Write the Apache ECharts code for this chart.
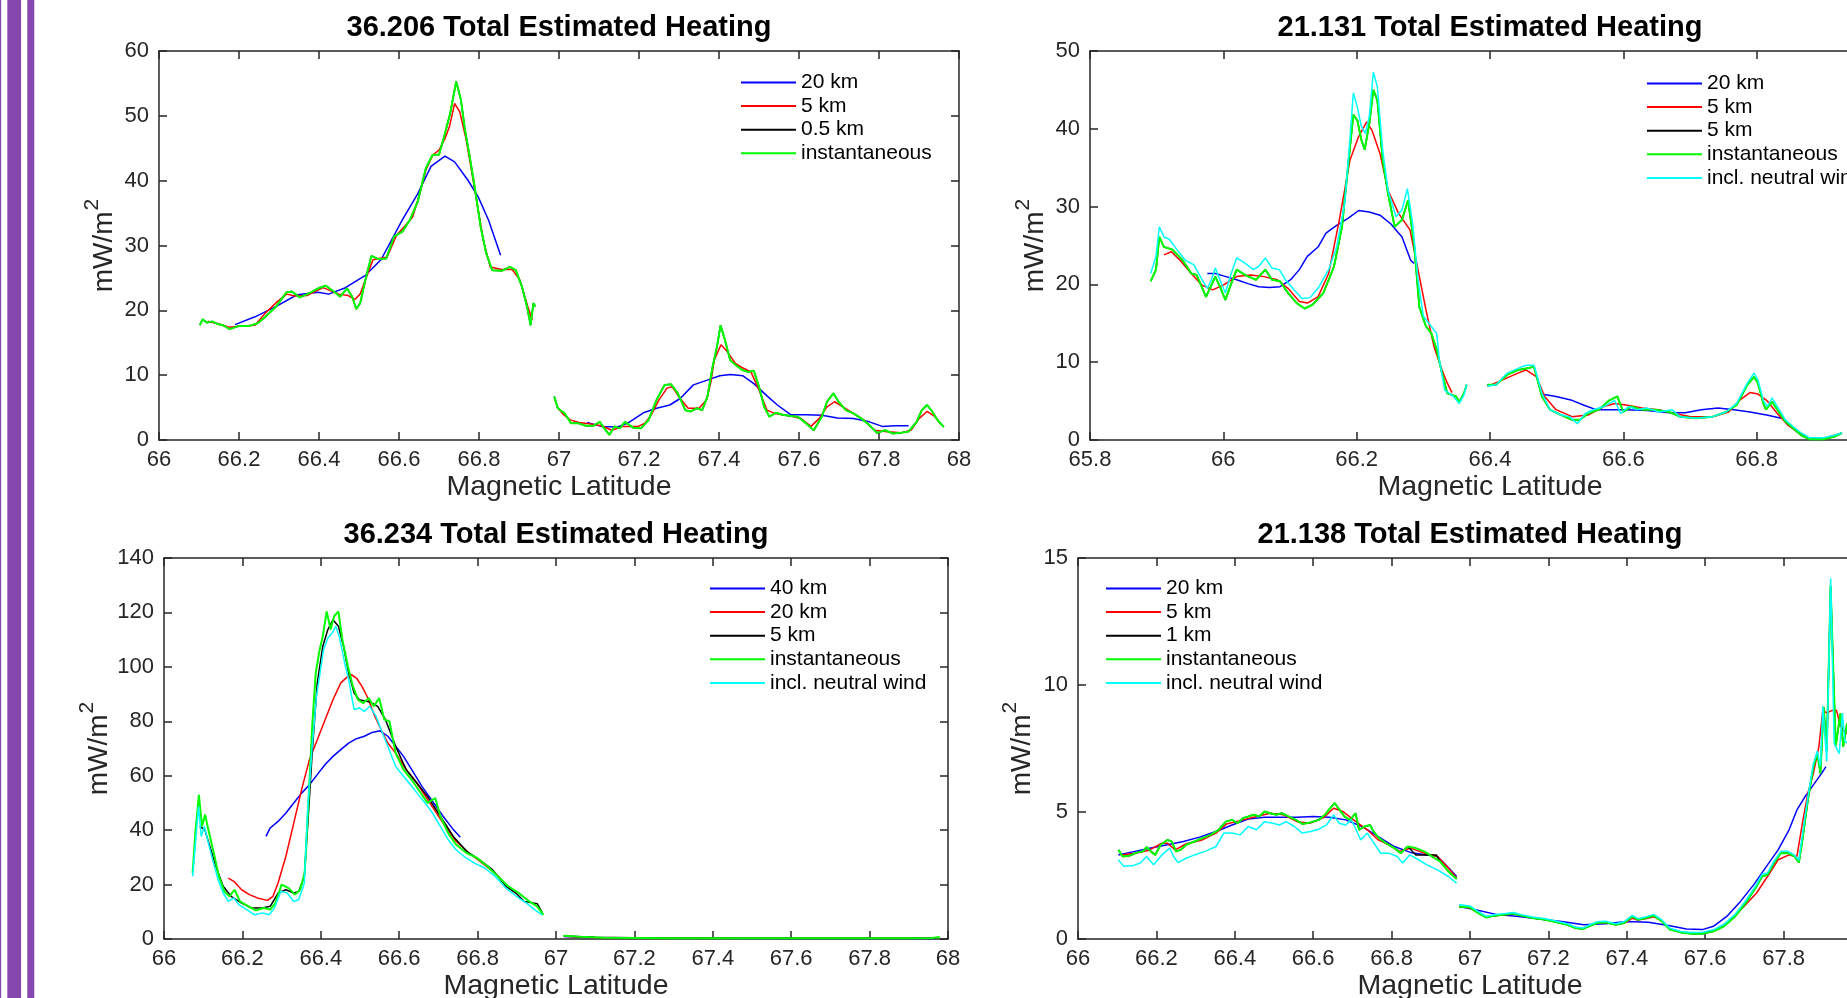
<!DOCTYPE html>
<html>
<head>
<meta charset="utf-8">
<title>Total Estimated Heating</title>
<script src="https://cdn.jsdelivr.net/npm/echarts/dist/echarts.min.js"></script>
<style>
  html, body { margin: 0; padding: 0; background: #ffffff; overflow: hidden; }
  #chart { width: 1847px; height: 998px; }
</style>
</head>
<body>
<div id="chart"></div>
<script>
// ---------------------------------------------------------------------------
// Heating estimates vs. magnetic latitude, four passes.
// Every curve is a list of segments of [latitude, mW/m^2] pairs.
// ---------------------------------------------------------------------------

// ---- 36.206 ---------------------------------------------------------------
const p206_20km = [
  [[66.19,17.8],[66.24,19.0],[66.293,20.6],[66.345,22.4],[66.398,22.8],[66.424,22.5],[66.463,23.4],[66.516,25.4],[66.555,27.8],[66.608,33.9],[66.647,38.0],[66.68,42.2],[66.715,43.8],[66.739,42.9],[66.772,40.1],[66.798,37.5],[66.824,33.9],[66.854,28.5]],
  [[67.07,2.7],[67.106,2.1],[67.146,2.0],[67.172,2.6],[67.211,4.2],[67.244,4.9],[67.277,5.4],[67.303,6.4],[67.336,8.5],[67.369,9.2],[67.402,9.9],[67.428,10.1],[67.46,9.9],[67.487,8.7],[67.52,6.8],[67.546,5.4],[67.579,3.9],[67.617,3.9],[67.657,3.8],[67.696,3.4],[67.736,3.3],[67.776,2.8],[67.808,2.1],[67.841,2.2],[67.874,2.2]]
];
const p206_5km = [
  [[66.122,18.3],[66.15,17.9],[66.175,17.4],[66.21,17.6],[66.24,17.7],[66.265,19.5],[66.295,21.3],[66.319,22.5],[66.34,22.2],[66.371,22.3],[66.41,23.5],[66.45,22.5],[66.472,22.3],[66.49,21.7],[66.503,22.5],[66.516,24.7],[66.535,27.8],[66.55,28.0],[66.57,28.2],[66.594,31.6],[66.615,33.0],[66.634,34.4],[66.652,38.0],[66.667,41.6],[66.685,44.0],[66.7,44.7],[66.715,46.5],[66.726,48.3],[66.739,51.9],[66.752,50.6],[66.768,46.3],[66.78,42.0],[66.791,38.0],[66.811,30.8],[66.828,26.7],[66.857,26.3],[66.883,26.3],[66.902,24.7],[66.922,20.6],[66.933,18.5]],
  [[66.995,5.1],[67.01,4.0],[67.028,3.1],[67.05,2.7],[67.075,2.5],[67.106,2.2],[67.132,1.5],[67.16,2.1],[67.198,2.1],[67.215,2.6],[67.231,3.9],[67.25,6.2],[67.27,8.0],[67.283,8.2],[67.303,6.4],[67.323,4.9],[67.35,4.9],[67.369,6.2],[67.38,9.0],[67.388,12.3],[67.405,14.7],[67.421,13.6],[67.441,11.8],[67.46,11.1],[67.48,10.5],[67.5,7.7],[67.52,4.6],[67.539,4.1],[67.579,3.7],[67.605,3.3],[67.63,2.1],[67.65,3.3],[67.67,5.1],[67.689,5.9],[67.71,5.1],[67.736,4.1],[67.762,3.1],[67.789,1.5],[67.815,1.3],[67.854,1.1],[67.88,1.5],[67.9,3.3],[67.92,4.4],[67.94,3.6],[67.96,2.1]]
];
const p206_inst = [
  [[66.102,17.7],[66.109,18.6],[66.12,18.1],[66.133,18.3],[66.146,17.9],[66.16,17.7],[66.177,17.1],[66.2,17.6],[66.226,17.6],[66.247,18.0],[66.266,19.0],[66.293,20.6],[66.319,22.8],[66.332,22.9],[66.352,22.0],[66.371,22.5],[66.398,23.4],[66.417,23.8],[66.437,22.9],[66.453,22.1],[66.47,23.4],[66.483,22.1],[66.493,20.2],[66.503,21.1],[66.516,24.7],[66.531,28.4],[66.549,27.9],[66.568,28.0],[66.588,31.4],[66.608,32.1],[66.627,33.9],[66.647,36.8],[66.667,41.9],[66.684,44.0],[66.7,44.0],[66.713,46.8],[66.728,50.4],[66.743,55.3],[66.755,52.4],[66.765,47.8],[66.776,44.0],[66.789,39.1],[66.804,32.9],[66.818,28.8],[66.833,26.2],[66.857,26.1],[66.877,26.7],[66.892,26.2],[66.907,23.7],[66.92,20.6],[66.929,17.7],[66.936,21.1],[66.941,20.6]],
  [[66.988,6.7],[66.997,4.9],[67.014,4.1],[67.03,2.6],[67.047,2.6],[67.067,2.2],[67.086,2.2],[67.102,2.8],[67.113,1.8],[67.126,0.8],[67.139,2.1],[67.152,1.8],[67.165,2.8],[67.185,1.9],[67.205,1.8],[67.224,3.1],[67.244,6.2],[67.264,8.5],[67.28,8.6],[67.297,7.2],[67.316,4.6],[67.329,4.4],[67.345,4.9],[67.358,4.6],[67.371,6.7],[67.384,11.3],[67.395,14.4],[67.404,17.7],[67.415,15.4],[67.428,12.3],[67.441,11.6],[67.458,10.8],[67.474,10.5],[67.487,10.7],[67.5,8.2],[67.513,5.1],[67.526,3.6],[67.542,4.2],[67.559,3.9],[67.579,3.7],[67.597,3.6],[67.617,2.6],[67.637,1.5],[67.657,3.6],[67.67,5.9],[67.686,7.2],[67.699,5.9],[67.717,4.6],[67.736,4.1],[67.756,3.3],[67.776,2.3],[67.795,1.1],[67.815,1.5],[67.835,1.0],[67.854,1.1],[67.874,1.3],[67.894,2.8],[67.907,4.6],[67.92,5.4],[67.933,4.4],[67.946,3.1],[67.962,2.0]]
];
// the 0.5 km average lies on the instantaneous curve everywhere at this scale
const p206_05km = p206_inst;

// ---- 21.131 ---------------------------------------------------------------
const p131_20km = [
  [[65.976,21.4],[65.988,21.4],[66.004,21.0],[66.02,20.6],[66.037,20.1],[66.053,19.7],[66.069,19.6],[66.085,19.7],[66.101,20.6],[66.114,21.9],[66.126,23.6],[66.142,24.8],[66.154,26.6],[66.17,27.6],[66.187,28.5],[66.203,29.5],[66.219,29.3],[66.235,28.9],[66.251,27.8],[66.268,26.1],[66.281,23.1],[66.286,22.7]],
  [[66.477,5.9],[66.499,5.6],[66.523,5.1],[66.543,4.4],[66.559,3.9],[66.58,3.9],[66.604,3.9],[66.636,3.8],[66.669,3.5],[66.693,3.5],[66.717,3.9],[66.742,4.1],[66.766,3.9],[66.79,3.6],[66.815,3.2],[66.837,2.8]]
];
const p131_5km = [
  [[65.911,23.8],[65.922,24.2],[65.935,23.1],[65.952,21.4],[65.968,19.9],[65.984,19.3],[66.0,19.9],[66.02,21.0],[66.041,21.2],[66.061,21.0],[66.081,20.6],[66.097,19.5],[66.114,17.8],[66.126,17.6],[66.142,18.4],[66.158,21.4],[66.174,28.3],[66.19,36.0],[66.203,39.0],[66.215,40.9],[66.223,39.8],[66.235,36.8],[66.247,32.1],[66.263,29.1],[66.28,27.0],[66.292,21.9],[66.304,16.7],[66.316,12.0],[66.328,9.0],[66.336,7.3],[66.343,6.1]],
  [[66.396,6.9],[66.418,7.7],[66.442,8.6],[66.454,9.0],[66.47,8.1],[66.482,5.6],[66.499,3.9],[66.523,3.0],[66.547,3.2],[66.571,4.3],[66.587,4.7],[66.604,4.5],[66.628,4.1],[66.652,3.9],[66.677,3.4],[66.701,3.0],[66.734,3.0],[66.758,3.6],[66.774,5.1],[66.79,6.1],[66.802,5.9],[66.815,5.1],[66.831,3.4],[66.847,1.9],[66.863,0.9],[66.879,0.2],[66.9,0.2],[66.916,0.6],[66.928,0.9]]
];
const p131_inst = [
  [[65.891,20.4],[65.899,21.9],[65.904,26.1],[65.911,24.8],[65.923,24.5],[65.939,23.1],[65.952,21.4],[65.96,21.2],[65.974,18.4],[65.981,19.7],[65.988,21.0],[65.996,19.5],[66.003,18.0],[66.011,19.9],[66.02,21.9],[66.033,21.2],[66.049,20.6],[66.063,21.9],[66.073,20.6],[66.085,20.4],[66.097,18.9],[66.11,17.6],[66.122,16.9],[66.134,17.4],[66.15,18.9],[66.166,22.3],[66.178,27.4],[66.187,35.1],[66.195,41.8],[66.201,41.1],[66.207,38.6],[66.212,37.3],[66.219,40.7],[66.225,45.0],[66.231,43.7],[66.239,36.0],[66.247,31.7],[66.257,27.4],[66.268,28.3],[66.277,30.8],[66.286,25.3],[66.294,17.1],[66.304,14.6],[66.312,13.7],[66.32,11.6],[66.328,8.6],[66.336,6.0],[66.349,5.6],[66.354,4.9],[66.361,6.0],[66.365,7.1]],
  [[66.396,7.1],[66.409,7.1],[66.426,8.4],[66.442,9.0],[66.454,9.2],[66.466,9.4],[66.478,5.6],[66.49,3.9],[66.507,3.2],[66.523,2.6],[66.535,2.6],[66.547,3.4],[66.563,3.9],[66.579,5.1],[66.591,5.6],[66.6,3.6],[66.612,4.3],[66.628,3.9],[66.648,3.9],[66.669,3.6],[66.685,3.0],[66.709,2.8],[66.734,3.0],[66.754,3.6],[66.77,4.5],[66.786,7.1],[66.796,8.1],[66.802,7.3],[66.81,4.7],[66.814,3.9],[66.823,4.9],[66.831,3.9],[66.843,2.4],[66.855,1.5],[66.867,0.6],[66.879,0.1],[66.9,0.1],[66.916,0.4],[66.928,0.9]]
];
// the black 5 km curve is hidden beneath the instantaneous one
const p131_5kmBlack = p131_inst;
const p131_wind = [
  [[65.891,21.4],[65.899,23.6],[65.904,27.4],[65.911,26.1],[65.919,25.8],[65.931,24.4],[65.943,23.1],[65.956,22.5],[65.968,20.6],[65.976,19.5],[65.982,20.6],[65.988,22.1],[65.994,20.8],[66.003,18.9],[66.011,21.2],[66.02,23.4],[66.033,22.7],[66.045,21.9],[66.053,22.3],[66.063,23.4],[66.073,22.1],[66.084,21.9],[66.093,20.6],[66.106,19.3],[66.118,18.2],[66.13,18.3],[66.142,19.5],[66.158,21.9],[66.17,24.8],[66.182,30.4],[66.189,37.7],[66.195,44.6],[66.201,42.8],[66.207,40.3],[66.213,39.4],[66.219,41.6],[66.225,47.3],[66.231,45.4],[66.239,37.3],[66.247,32.1],[66.259,28.7],[66.268,29.6],[66.276,32.3],[66.284,27.8],[66.292,20.6],[66.3,15.9],[66.312,14.6],[66.32,13.7],[66.324,10.3],[66.332,6.4],[66.345,5.6],[66.354,4.7],[66.361,5.8],[66.365,7.1]],
  [[66.396,6.9],[66.409,7.1],[66.426,8.6],[66.442,9.2],[66.454,9.6],[66.466,9.6],[66.478,6.0],[66.49,3.9],[66.507,3.2],[66.519,3.0],[66.531,2.1],[66.543,3.4],[66.555,3.9],[66.571,4.3],[66.587,5.1],[66.596,3.4],[66.608,4.3],[66.62,3.9],[66.636,4.1],[66.653,3.6],[66.673,3.9],[66.685,3.0],[66.709,2.8],[66.734,3.0],[66.754,3.6],[66.77,4.7],[66.786,7.3],[66.796,8.6],[66.802,7.7],[66.81,5.1],[66.816,4.3],[66.823,5.4],[66.831,4.3],[66.843,2.6],[66.855,1.7],[66.867,0.9],[66.879,0.3],[66.9,0.3],[66.916,0.6],[66.928,0.9]]
];

// ---- 36.234 ---------------------------------------------------------------
const p234_40km = [
  [[66.26,37.7],[66.271,40.8],[66.291,43.2],[66.311,46.3],[66.331,50.0],[66.351,53.6],[66.371,56.7],[66.391,60.4],[66.411,64.1],[66.431,67.1],[66.451,69.6],[66.471,72.0],[66.491,73.6],[66.511,74.5],[66.531,75.9],[66.551,76.5],[66.571,74.5],[66.591,70.8],[66.611,67.1],[66.632,62.2],[66.658,56.1],[66.685,50.6],[66.712,45.1],[66.738,40.2],[66.756,37.4]],
  [[67.02,0.9],[67.1,0.5],[67.3,0.3],[67.6,0.2],[67.97,0.2]]
];
const p234_20km = [
  [[66.164,22.4],[66.178,21.2],[66.198,18.1],[66.218,16.3],[66.238,15.1],[66.264,14.2],[66.278,15.7],[66.291,20.6],[66.311,30.4],[66.331,42.6],[66.351,54.9],[66.371,65.9],[66.391,73.2],[66.411,80.6],[66.431,87.9],[66.451,94.1],[66.469,96.5],[66.478,97.1],[66.491,95.9],[66.505,92.8],[66.518,89.2],[66.538,81.8],[66.554,76.9],[66.571,72.0],[66.591,68.3],[66.618,62.2],[66.645,57.3],[66.678,50.0],[66.712,42.6],[66.745,35.9],[66.778,31.6],[66.812,27.9],[66.838,24.9],[66.858,22.4]],
  [[67.02,1.0],[67.1,0.5],[67.3,0.3],[67.6,0.25],[67.97,0.25]]
];
const p234_5km = [
  [[66.091,41.4],[66.104,40.2],[66.117,34.0],[66.135,25.5],[66.151,19.4],[66.171,15.7],[66.198,13.2],[66.224,11.4],[66.251,11.4],[66.271,12.0],[66.291,16.9],[66.311,18.1],[66.331,16.9],[66.344,17.5],[66.358,23.0],[66.367,42.6],[66.378,68.3],[66.391,94.1],[66.405,107.5],[66.418,113.7],[66.431,117.3],[66.445,114.9],[66.458,107.5],[66.471,97.7],[66.485,90.4],[66.498,87.9],[66.525,87.1],[66.545,85.5],[66.565,80.6],[66.591,70.8],[66.618,62.2],[66.645,57.3],[66.672,52.4],[66.705,45.1],[66.738,37.7],[66.772,32.2],[66.805,29.1],[66.838,25.5],[66.872,19.4],[66.899,16.7],[66.919,13.8],[66.952,13.0],[66.965,9.6]],
  [[67.02,1.1],[67.1,0.6],[67.3,0.3],[67.6,0.25],[67.97,0.3]]
];
const p234_inst = [
  [[66.073,24.2],[66.08,38.9],[66.089,53.0],[66.097,41.4],[66.105,45.7],[66.113,40.2],[66.127,31.6],[66.14,23.0],[66.154,17.5],[66.167,15.7],[66.18,18.1],[66.194,13.8],[66.215,12.0],[66.234,10.5],[66.255,11.4],[66.271,10.8],[66.284,13.2],[66.3,20.0],[66.318,18.7],[66.334,16.3],[66.347,18.1],[66.359,24.2],[66.367,46.3],[66.378,78.1],[66.387,97.7],[66.397,106.3],[66.405,111.2],[66.415,120.4],[66.425,113.7],[66.434,118.6],[66.445,120.4],[66.455,110.0],[66.469,100.2],[66.482,92.8],[66.495,87.9],[66.509,86.7],[66.522,88.5],[66.535,85.5],[66.549,88.5],[66.562,80.6],[66.575,80.0],[66.591,68.3],[66.611,62.2],[66.632,58.5],[66.652,54.3],[66.672,50.0],[66.692,51.8],[66.705,45.1],[66.725,38.9],[66.745,34.7],[66.772,31.6],[66.798,29.8],[66.825,26.7],[66.852,23.0],[66.878,19.4],[66.905,16.9],[66.932,13.8],[66.952,12.0],[66.968,8.9]],
  [[67.019,1.2],[67.06,0.8],[67.12,0.5],[67.3,0.3],[67.6,0.25],[67.9,0.25],[67.96,0.35],[67.979,0.7]]
];
const p234_wind = [
  [[66.073,23.0],[66.081,36.5],[66.088,48.7],[66.095,37.7],[66.103,41.4],[66.111,36.5],[66.124,29.1],[66.138,21.8],[66.151,16.9],[66.164,13.8],[66.178,15.1],[66.191,12.6],[66.211,10.8],[66.231,8.9],[66.251,9.6],[66.268,8.9],[66.282,11.4],[66.298,17.5],[66.314,16.9],[66.331,13.8],[66.344,14.5],[66.358,20.6],[66.367,48.7],[66.378,70.8],[66.389,89.2],[66.398,97.7],[66.407,106.3],[66.418,110.6],[66.429,112.4],[66.438,114.9],[66.447,111.2],[66.461,101.4],[66.471,95.3],[66.485,84.3],[66.498,84.9],[66.511,83.6],[66.525,85.5],[66.541,81.8],[66.554,76.9],[66.571,70.8],[66.591,63.4],[66.611,59.8],[66.632,56.1],[66.652,52.4],[66.669,49.4],[66.685,46.3],[66.705,41.4],[66.725,36.5],[66.745,32.8],[66.765,30.4],[66.792,27.9],[66.818,26.1],[66.845,23.0],[66.872,18.7],[66.899,15.7],[66.925,13.2],[66.945,10.8],[66.965,8.9]]
];

// ---- 21.138 ---------------------------------------------------------------
const p138_20km = [
  [[66.103,3.31],[66.145,3.45],[66.186,3.58],[66.228,3.71],[66.269,3.84],[66.31,4.01],[66.352,4.23],[66.393,4.49],[66.434,4.72],[66.476,4.79],[66.517,4.79],[66.559,4.79],[66.6,4.82],[66.641,4.79],[66.683,4.69],[66.724,4.43],[66.766,4.03],[66.807,3.64],[66.848,3.41],[66.89,3.31],[66.917,3.25],[66.938,2.92],[66.966,2.46]],
  [[66.972,1.28],[67.014,1.15],[67.069,0.96],[67.124,0.89],[67.179,0.79],[67.234,0.69],[67.29,0.56],[67.345,0.6],[67.4,0.69],[67.455,0.66],[67.51,0.52],[67.552,0.39],[67.593,0.37],[67.621,0.5],[67.655,0.89],[67.69,1.48],[67.724,2.14],[67.759,2.92],[67.786,3.51],[67.814,4.3],[67.834,5.08],[67.855,5.61],[67.876,6.07],[67.897,6.52],[67.908,6.79]]
];
const p138_5km = [
  [[66.11,3.31],[66.145,3.38],[66.179,3.48],[66.214,3.77],[66.228,3.77],[66.248,3.51],[66.276,3.75],[66.317,3.9],[66.352,4.17],[66.379,4.53],[66.421,4.69],[66.455,4.82],[66.49,4.95],[66.524,4.89],[66.559,4.62],[66.593,4.56],[66.628,4.79],[66.652,5.15],[66.676,5.02],[66.703,4.69],[66.738,4.3],[66.766,3.9],[66.793,3.71],[66.821,3.45],[66.848,3.58],[66.883,3.38],[66.917,3.25],[66.945,2.79],[66.966,2.4]],
  [[66.972,1.28],[67.0,1.22],[67.021,1.03],[67.041,0.88],[67.062,0.92],[67.09,0.95],[67.11,0.98],[67.131,0.93],[67.159,0.85],[67.193,0.77],[67.221,0.67],[67.248,0.57],[67.269,0.46],[67.287,0.42],[67.303,0.5],[67.324,0.62],[67.345,0.65],[67.372,0.58],[67.393,0.62],[67.414,0.82],[67.428,0.75],[67.448,0.8],[67.469,0.88],[67.49,0.7],[67.51,0.4],[67.538,0.28],[67.566,0.24],[67.593,0.24],[67.621,0.33],[67.648,0.55],[67.676,0.92],[67.703,1.35],[67.731,1.81],[67.759,2.46],[67.786,3.12],[67.814,3.31],[67.834,3.25],[67.848,4.56],[67.862,5.74],[67.876,6.52],[67.89,7.57],[67.9,9.0],[67.91,8.9],[67.924,9.0],[67.935,9.0],[67.945,8.4],[67.959,8.1],[67.975,8.0]]
];
const p138_inst = [
  [[66.103,3.51],[66.114,3.25],[66.131,3.28],[66.152,3.41],[66.166,3.45],[66.175,3.62],[66.186,3.45],[66.197,3.31],[66.211,3.71],[66.228,3.9],[66.239,3.84],[66.25,3.45],[66.262,3.51],[66.276,3.71],[66.297,3.84],[66.317,3.97],[66.338,4.1],[66.359,4.3],[66.377,4.62],[66.393,4.69],[66.407,4.56],[66.421,4.76],[66.434,4.82],[66.448,4.89],[66.462,4.82],[66.476,5.02],[66.49,4.95],[66.506,4.89],[66.52,4.95],[66.538,4.82],[66.556,4.69],[66.572,4.53],[66.593,4.59],[66.614,4.69],[66.63,4.89],[66.641,5.11],[66.655,5.35],[66.666,5.11],[66.68,4.82],[66.694,4.69],[66.708,4.95],[66.717,4.3],[66.731,4.43],[66.745,4.49],[66.754,4.23],[66.768,3.97],[66.786,3.77],[66.807,3.58],[66.823,3.38],[66.841,3.64],[66.862,3.58],[66.883,3.45],[66.903,3.25],[66.924,3.05],[66.945,2.66],[66.966,2.36]],
  [[66.972,1.28],[67.0,1.24],[67.021,1.02],[67.041,0.85],[67.062,0.92],[67.09,0.96],[67.11,1.0],[67.131,0.92],[67.159,0.83],[67.193,0.76],[67.221,0.66],[67.248,0.56],[67.269,0.43],[67.287,0.39],[67.303,0.5],[67.324,0.63],[67.345,0.66],[67.372,0.56],[67.393,0.63],[67.414,0.89],[67.428,0.76],[67.448,0.83],[67.469,0.92],[67.49,0.69],[67.51,0.37],[67.538,0.26],[67.566,0.21],[67.593,0.21],[67.621,0.3],[67.648,0.5],[67.676,0.89],[67.703,1.41],[67.731,2.07],[67.745,2.46],[67.759,2.53],[67.775,2.99],[67.793,3.38],[67.811,3.38],[67.828,3.25],[67.839,3.01],[67.848,3.9],[67.862,5.48],[67.876,6.79],[67.886,7.31],[67.894,6.52],[67.902,9.14],[67.91,7.4],[67.92,13.9],[67.927,10.45],[67.933,7.6],[67.945,8.88],[67.952,7.57],[67.962,8.5],[67.975,7.8]]
];
const p138_1km = [
  [[66.103,3.51],[66.114,3.25],[66.131,3.28],[66.152,3.41],[66.166,3.45],[66.175,3.62],[66.186,3.45],[66.197,3.31],[66.211,3.71],[66.228,3.9],[66.239,3.84],[66.25,3.45],[66.262,3.51],[66.276,3.71],[66.297,3.84],[66.317,3.97],[66.338,4.1],[66.359,4.3],[66.377,4.62],[66.393,4.69],[66.407,4.56],[66.421,4.76],[66.434,4.82],[66.448,4.89],[66.462,4.82],[66.476,5.02],[66.49,4.95],[66.506,4.89],[66.52,4.95],[66.538,4.82],[66.556,4.69],[66.572,4.53],[66.593,4.59],[66.614,4.69],[66.63,4.89],[66.641,5.11],[66.655,5.35],[66.666,5.11],[66.68,4.82],[66.694,4.69],[66.708,4.95],[66.717,4.3],[66.731,4.43],[66.745,4.49],[66.754,4.23],[66.768,3.97],[66.786,3.77],[66.807,3.58],[66.823,3.38],[66.841,3.64],[66.862,3.31],[66.914,3.31],[66.924,3.05],[66.945,2.66],[66.966,2.36]],
  p138_inst[1]
];
const p138_wind = [
  [[66.103,3.12],[66.117,2.86],[66.138,2.88],[66.159,2.99],[66.175,3.25],[66.193,2.92],[66.214,3.31],[66.234,3.58],[66.244,3.25],[66.255,3.01],[66.276,3.18],[66.297,3.31],[66.324,3.45],[66.352,3.64],[66.372,4.17],[66.393,4.17],[66.414,4.1],[66.434,4.43],[66.455,4.3],[66.476,4.62],[66.497,4.56],[66.514,4.49],[66.531,4.62],[66.552,4.43],[66.572,4.17],[66.593,4.23],[66.614,4.32],[66.634,4.49],[66.652,4.89],[66.666,4.56],[66.683,4.49],[66.697,4.69],[66.708,4.36],[66.721,3.9],[66.738,4.17],[66.752,3.84],[66.772,3.38],[66.793,3.38],[66.814,3.25],[66.828,2.99],[66.846,3.31],[66.869,3.12],[66.89,2.92],[66.917,2.72],[66.945,2.46],[66.966,2.2]],
  [[66.972,1.35],[67.0,1.3],[67.021,1.08],[67.041,0.9],[67.062,0.95],[67.09,1.0],[67.11,1.04],[67.131,0.96],[67.159,0.87],[67.193,0.8],[67.221,0.7],[67.248,0.6],[67.269,0.47],[67.287,0.43],[67.303,0.54],[67.324,0.68],[67.345,0.7],[67.372,0.6],[67.393,0.68],[67.414,0.93],[67.428,0.8],[67.448,0.87],[67.469,0.97],[67.49,0.74],[67.51,0.42],[67.538,0.3],[67.566,0.26],[67.593,0.27],[67.621,0.36],[67.648,0.58],[67.676,0.97],[67.703,1.5],[67.731,2.15],[67.745,2.55],[67.759,2.6],[67.775,3.05],[67.793,3.45],[67.811,3.45],[67.828,3.3],[67.839,3.1],[67.848,4.1],[67.862,5.6],[67.876,6.9],[67.886,7.4],[67.894,6.8],[67.9,9.15],[67.91,7.0],[67.92,14.2],[67.929,7.7],[67.942,7.3],[67.95,8.9],[67.956,7.8],[67.963,7.7],[67.975,8.3]]
];

// ---- axis ranges and labels -------------------------------------------------
const panelTitles = ['36.206 Total Estimated Heating', '21.131 Total Estimated Heating',
                     '36.234 Total Estimated Heating', '21.138 Total Estimated Heating'];
const latRanges = [[66, 68], [65.8, 67], [66, 68], [66, 68]];
const latStep = 0.2;
const heatRanges = [[0, 60, 10], [0, 50, 10], [0, 140, 20], [0, 15, 5]];
const xLabel = 'Magnetic Latitude';

// ---- line colours -----------------------------------------------------------
const BLUE = '#0000ff', RED = '#ff0000', BLACK = '#000000', GREEN = '#00ff00', CYAN = '#00ffff';

// curves per panel, in drawing order (last one on top)
const panels = [
  [
    { name: '20 km', color: BLUE, segs: p206_20km },
    { name: '5 km', color: RED, segs: p206_5km },
    { name: '0.5 km', color: BLACK, segs: p206_05km },
    { name: 'instantaneous', color: GREEN, segs: p206_inst }
  ],
  [
    { name: '20 km', color: BLUE, segs: p131_20km },
    { name: '5 km', color: RED, segs: p131_5km },
    { name: '5 km ', color: BLACK, segs: p131_5kmBlack },
    { name: 'instantaneous', color: GREEN, segs: p131_inst },
    { name: 'incl. neutral wind', color: CYAN, segs: p131_wind }
  ],
  [
    { name: '40 km', color: BLUE, segs: p234_40km },
    { name: '20 km', color: RED, segs: p234_20km },
    { name: '5 km', color: BLACK, segs: p234_5km },
    { name: 'instantaneous', color: GREEN, segs: p234_inst },
    { name: 'incl. neutral wind', color: CYAN, segs: p234_wind }
  ],
  [
    { name: '20 km', color: BLUE, segs: p138_20km },
    { name: '5 km', color: RED, segs: p138_5km },
    { name: '1 km', color: BLACK, segs: p138_1km },
    { name: 'instantaneous', color: GREEN, segs: p138_inst },
    { name: 'incl. neutral wind', color: CYAN, segs: p138_wind }
  ]
];

// ---- layout -----------------------------------------------------------------
const FONT = '"Liberation Sans", Arial, Helvetica, sans-serif';
const INK = '#262626';
const gridBoxes = [
  { left: 159,  top: 51,  width: 800, height: 389 },
  { left: 1090, top: 51,  width: 800, height: 389 },
  { left: 164,  top: 558, width: 784, height: 381 },
  { left: 1078, top: 558, width: 784, height: 381 }
];
const titlePos = [[559, 13], [1490, 13], [556, 520], [1470, 520]];
const legendPos = [[741, 72], [1647, 73], [710, 578], [1106, 578]];
const yNameGap = [41, 41, 51, 42];

// line breaks between separate passes of a curve
function joinSegments(segs) {
  const out = [];
  segs.forEach((s, k) => {
    if (k > 0) out.push([s[0][0], null]);
    s.forEach(p => out.push(p));
  });
  return out;
}

const axisLineStyle = { color: INK, width: 1.5 };
const tickStyle = { show: true, inside: true, length: 8, lineStyle: { color: INK, width: 1.5 } };
const tickFont = { color: INK, fontSize: 22, fontFamily: FONT };

const option = {
  animation: false,
  backgroundColor: '#ffffff',
  title: [], grid: [], xAxis: [], yAxis: [], legend: [], series: [],
  graphic: [
    // purple side bars
    { type: 'rect', shape: { x: 0, y: 0, width: 1.2, height: 998 }, style: { fill: '#8647ae' }, silent: true },
    { type: 'rect', shape: { x: 7.3, y: 0, width: 13.8, height: 998 }, style: { fill: '#8647ae' }, silent: true },
    { type: 'rect', shape: { x: 27.3, y: 0, width: 7, height: 998 }, style: { fill: '#8647ae' }, silent: true }
  ]
};

panels.forEach((curves, i) => {
  const g = gridBoxes[i];
  option.grid.push(Object.assign({ outerBoundsMode: 'none', containLabel: false }, g));

  option.title.push({
    text: panelTitles[i], left: titlePos[i][0], top: titlePos[i][1], textAlign: 'center', padding: 0,
    textStyle: { fontSize: 29, fontWeight: 'bold', color: '#000000', fontFamily: FONT }
  });

  const [xMin, xMax] = latRanges[i];
  const [yMin, yMax, yStep] = heatRanges[i];
  const xBase = {
    type: 'value', gridIndex: i, min: xMin, max: xMax, interval: latStep,
    splitLine: { show: false }, axisLine: { show: true, onZero: false, lineStyle: axisLineStyle }, axisTick: tickStyle
  };
  option.xAxis.push(Object.assign({}, xBase, {
    position: 'bottom',
    axisLabel: Object.assign({ margin: 9, showMinLabel: true, showMaxLabel: true, hideOverlap: false,
      formatter: v => String(Math.round(v * 10) / 10) }, tickFont),
    name: xLabel, nameLocation: 'middle', nameGap: 33, nameMoveOverlap: false,
    nameTextStyle: { color: INK, fontSize: 28.5, fontFamily: FONT }
  }));
  option.xAxis.push(Object.assign({}, xBase, { position: 'top', axisLabel: { show: false } }));

  const yBase = {
    type: 'value', gridIndex: i, min: yMin, max: yMax, interval: yStep,
    splitLine: { show: false }, axisLine: { show: true, onZero: false, lineStyle: axisLineStyle }, axisTick: tickStyle
  };
  option.yAxis.push(Object.assign({}, yBase, {
    position: 'left',
    axisLabel: Object.assign({ margin: 10, showMinLabel: true, showMaxLabel: true }, tickFont),
    name: '{a|mW/m}{b|2}', nameLocation: 'middle', nameGap: yNameGap[i], nameMoveOverlap: false,
    nameTextStyle: {
      color: INK, fontFamily: FONT, fontSize: 28,
      rich: {
        a: { fontSize: 28, color: INK, fontFamily: FONT, verticalAlign: 'bottom' },
        b: { fontSize: 21, color: INK, fontFamily: FONT, verticalAlign: 'top', padding: [0, 0, 15, 1] }
      }
    }
  }));
  option.yAxis.push(Object.assign({}, yBase, { position: 'right', axisLabel: { show: false } }));

  option.legend.push({
    orient: 'vertical', left: legendPos[i][0], top: legendPos[i][1], padding: 0,
    icon: 'rect', itemWidth: 55, itemHeight: 2, itemGap: 2.6, selectedMode: false,
    textStyle: { color: '#000000', fontSize: 21, fontFamily: FONT, lineHeight: 21 },
    data: curves.map(c => ({ name: c.name, itemStyle: { color: c.color, borderWidth: 0 }, lineStyle: { color: c.color } }))
  });

  curves.forEach(c => {
    option.series.push({
      type: 'line', name: c.name, xAxisIndex: 2 * i, yAxisIndex: 2 * i,
      data: joinSegments(c.segs), showSymbol: false, symbol: 'none', connectNulls: false,
      clip: true, silent: true, emphasis: { disabled: true },
      lineStyle: { color: c.color, width: c.color === GREEN ? 2 : 1.5 },
      itemStyle: { color: c.color }
    });
  });
});

const chart = echarts.init(document.getElementById('chart'), null, { renderer: 'canvas' });
chart.setOption(option);
</script>
</body>
</html>
